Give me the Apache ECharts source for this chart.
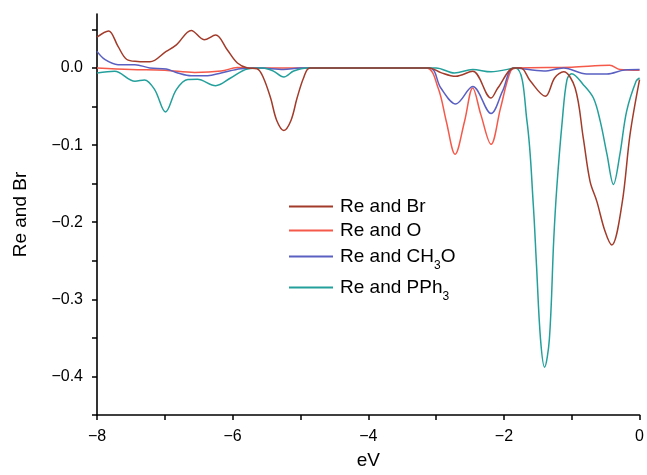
<!DOCTYPE html>
<html>
<head>
<meta charset="utf-8">
<script src="https://cdn.jsdelivr.net/npm/echarts@6/dist/echarts.min.js"></script>
<style>html,body{margin:0;padding:0;background:#fff}#c{width:647px;height:475px}</style>
</head>
<body>
<div id="c"></div>
<script>
const seriesNames = ['Re and Br', 'Re and O', 'Re and CH3O', 'Re and PPh3'];
const xTicks = [-8, -6, -4, -2, 0];
const yTicks = [0.0, -0.1, -0.2, -0.3, -0.4];

const reBr = [[-8,0.040],[-7.83,0.048],[-7.69,0.028],[-7.56,0.011],[-7.4,0.0085],[-7.22,0.008],[-6.98,0.0215],[-6.83,0.030],[-6.61,0.0487],[-6.42,0.0366],[-6.25,0.0427],[-6.08,0.0237],[-5.93,0.0065],[-5.78,0],[-5.64,-0.001],[-5.55,-0.012],[-5.44,-0.039],[-5.35,-0.068],[-5.245,-0.081],[-5.14,-0.068],[-5.05,-0.039],[-4.95,-0.012],[-4.86,0],[-3.1,0],[-2.93,-0.006],[-2.71,-0.0108],[-2.46,-0.0044],[-2.19,-0.039],[-2.09,-0.026],[-1.85,0],[-1.75,0],[-1.61,-0.017],[-1.39,-0.0367],[-1.25,-0.0126],[-1.12,-0.005],[-0.95,-0.026],[-0.83,-0.0906],[-0.73,-0.147],[-0.63,-0.173],[-0.51,-0.2115],[-0.41,-0.2296],[-0.26,-0.177],[-0.14,-0.086],[0,-0.015]];
const reO = [[-8,0],[-7.5,-0.002],[-7.0,-0.003],[-6.56,-0.0057],[-6.17,-0.004],[-5.93,0.0005],[-5.7,0],[-3.15,0],[-2.97,-0.026],[-2.85,-0.069],[-2.72,-0.112],[-2.58,-0.069],[-2.46,-0.026],[-2.34,-0.0605],[-2.19,-0.099],[-2.05,-0.052],[-1.90,-0.004],[-1.8,0],[-1.0,0.001],[-0.44,0.0034],[-0.29,-0.002],[0,-0.003]];
const reCH3O = [[-8,0.0215],[-7.88,0.0107],[-7.69,0.0043],[-7.44,0.0043],[-7.22,0],[-6.98,-0.0013],[-6.81,-0.0064],[-6.61,-0.01],[-6.37,-0.01],[-6.17,-0.0065],[-5.88,-0.001],[-5.6,0],[-5.25,-0.002],[-5.0,0],[-3.1,0],[-2.93,-0.026],[-2.71,-0.0466],[-2.46,-0.024],[-2.19,-0.059],[-2.02,-0.030],[-1.85,0],[-1.41,-0.004],[-1.12,0],[-0.78,-0.0078],[-0.48,-0.0078],[-0.22,-0.0026],[0,-0.002]];
const rePPh3 = [[-8,-0.0065],[-7.74,-0.0043],[-7.44,-0.0173],[-7.30,-0.0155],[-7.15,-0.028],[-6.99,-0.057],[-6.83,-0.028],[-6.66,-0.015],[-6.52,-0.0147],[-6.25,-0.023],[-6.03,-0.013],[-5.78,-0.0013],[-5.55,0],[-5.4,-0.004],[-5.245,-0.0117],[-5.1,-0.004],[-4.9,0],[-3.0,0],[-2.73,-0.0065],[-2.46,-0.002],[-2.19,-0.005],[-1.83,0],[-1.66,-0.069],[-1.567,-0.177],[-1.52,-0.255],[-1.46,-0.352],[-1.40,-0.388],[-1.33,-0.352],[-1.265,-0.222],[-1.22,-0.155],[-1.14,-0.069],[-1.07,-0.015],[-1.00,-0.0074],[-0.83,-0.0216],[-0.68,-0.039],[-0.58,-0.069],[-0.48,-0.112],[-0.385,-0.151],[-0.29,-0.112],[-0.19,-0.056],[-0.05,-0.017],[0,-0.013]];

const colors = ['#a23b2a', '#f4594a', '#5a60c2', '#24a09c'];
const seriesData = [reBr, reO, reCH3O, rePPh3];
const legendLabels = ['Re and Br', 'Re and O', 'Re and CH{sub|3}O', 'Re and PPh{sub|3}'];
const legendTops = [197, 221, 247, 278];

const FONT = '"Liberation Sans", Arial, sans-serif';
const chart = echarts.init(document.getElementById('c'), null, {renderer: 'canvas'});
const isTick = (v, list) => list.some(t => Math.abs(t - v) < 1e-6);
const fmt = (v, d) => (v < -1e-9 ? '\u2212' : '') + Math.abs(v).toFixed(d);

chart.setOption({
  animation: false,
  backgroundColor: '#fff',
  grid: {left: 97, right: 4, top: 14, bottom: 58, containLabel: false},
  legend: seriesNames.map((n, i) => ({
    data: [n], orient: 'vertical', left: 289, top: legendTops[i], padding: 0,
    icon: 'rect', itemWidth: 44, itemHeight: 2,
    formatter: () => legendLabels[i],
    textStyle: {
      color: '#000', fontFamily: FONT, fontSize: 19, padding: [0, 0, 0, 2],
      rich: {sub: {fontSize: 12, fontFamily: FONT, color: '#000', padding: [18, 0, 0, 0]}}
    }
  })),
  xAxis: {
    type: 'value', min: -8, max: 0, interval: 1,
    name: 'eV', nameLocation: 'middle', nameGap: 36,
    nameTextStyle: {color: '#000', fontFamily: FONT, fontSize: 19},
    axisLine: {show: true, onZero: false, lineStyle: {color: '#000', width: 1.6}},
    axisTick: {show: true, inside: false, length: 5, lineStyle: {color: '#000', width: 1.5}},
    axisLabel: {color: '#000', fontFamily: FONT, fontSize: 16, margin: 14,
      formatter: v => isTick(v, xTicks) ? fmt(v, 0) : ''},
    splitLine: {show: false}
  },
  yAxis: {
    type: 'value', min: -0.45, max: 0.07, interval: 0.05,
    name: 'Re and Br', nameLocation: 'middle', nameGap: 67,
    nameTextStyle: {color: '#000', fontFamily: FONT, fontSize: 19},
    axisLine: {show: true, onZero: false, lineStyle: {color: '#000', width: 1.6}},
    axisTick: {show: true, inside: false, length: 5, lineStyle: {color: '#000', width: 1.5}},
    axisLabel: {color: '#000', fontFamily: FONT, fontSize: 16, margin: 14,
      showMaxLabel: false,
      formatter: v => isTick(v, yTicks) ? fmt(v, 1) : ''},
    splitLine: {show: false}
  },
  series: seriesNames.map((n, i) => ({
    name: n, type: 'line', data: seriesData[i],
    smooth: 0.35, showSymbol: false, symbol: 'none',
    lineStyle: {color: colors[i], width: 1.5}, itemStyle: {color: colors[i]},
    z: i === 0 ? 5 : 3
  }))
});
</script>
</body>
</html>
